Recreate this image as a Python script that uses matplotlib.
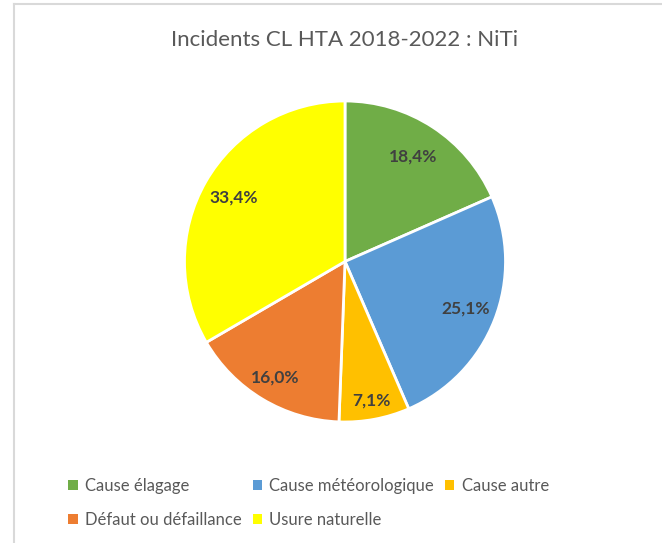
import numpy as np
import matplotlib.pyplot as plt
from matplotlib.lines import Line2D
from matplotlib.patches import Patch

# data
categories = ['Cause élagage', 'Cause météorologique', 'Cause autre',
              'Défaut ou défaillance', 'Usure naturelle']
values = [18.4, 25.1, 7.1, 16.0, 33.4]
colors = ['#70AD47', '#5B9BD5', '#FFC000', '#ED7D31', '#FFFF00']

plt.rcParams['font.family'] = ['Lato', 'DejaVu Sans']

fig = plt.figure(figsize=(6.62, 5.43), dpi=100)
ax = fig.add_axes([0, 0, 1, 1])

cx, cy, r = 345, 261.5, 160.5
# pie in pixel coords, y axis pointing down -> start at -90, counterclock
wedges, texts, autotexts = ax.pie(
    values, colors=colors, startangle=-90, counterclock=True,
    center=(cx, cy), radius=r, autopct='%1.1f%%', pctdistance=0.82,
    wedgeprops=dict(edgecolor='white', linewidth=2),
    textprops=dict(color='#404040', fontsize=12.5, fontweight='bold'))
ax.set_aspect('equal')
ax.set_xlim(0, 662)
ax.set_ylim(543, 0)
ax.axis('off')

# label distances like Excel's best-fit placement
dists = [0.78, 0.81, 0.88, 0.84, 0.80]
for w, t, d in zip(wedges, autotexts, dists):
    t.set_text(t.get_text().replace('.', ','))
    a = np.deg2rad((w.theta1 + w.theta2) / 2)
    t.set_position((cx + d * r * np.cos(a), cy + d * r * np.sin(a)))

fig.text(0.521, 1 - 40 / 543, 'Incidents CL HTA 2018-2022 : NiTi', ha='center',
         va='center', fontsize=16, color='#595959')

# legend, row-wise order like the original
order = [0, 3, 1, 4, 2]
handles = [Patch(facecolor=colors[i], edgecolor='none') for i in order]
labels = [categories[i] for i in order]
fig.legend(handles, labels, ncol=3, loc='center left',
           bbox_to_anchor=(60 / 662, 1 - 503 / 543), frameon=False,
           fontsize=12, labelcolor='#595959', handlelength=0.55,
           handleheight=0.55, handletextpad=0.45, columnspacing=0.65,
           labelspacing=1.05, borderpad=0)

# chart frame edge (left and top visible)
fig.add_artist(Line2D([14 / 662, 14 / 662], [0, 1 - 4 / 543],
                      color='#D9D9D9', lw=1.5))
fig.add_artist(Line2D([14 / 662, 1], [1 - 4 / 543, 1 - 4 / 543],
                      color='#D9D9D9', lw=1.5))

fig.savefig('out.png', dpi=100)
